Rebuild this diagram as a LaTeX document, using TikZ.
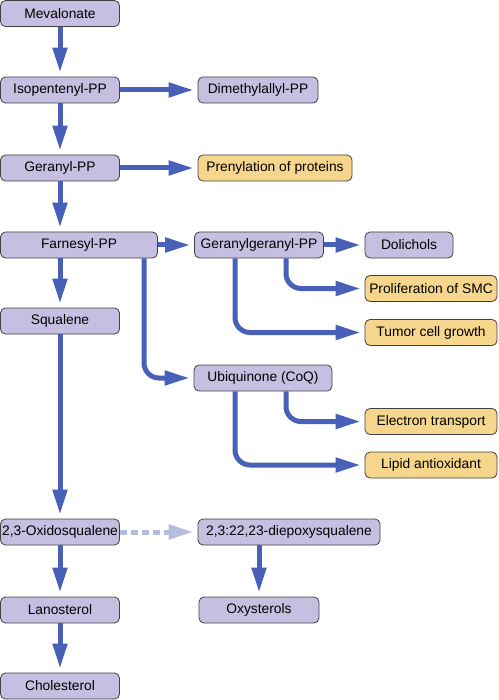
\documentclass[tikz,border=0pt]{standalone}
\usepackage{fontspec}
\setmainfont{Liberation Sans}
\usetikzlibrary{arrows.meta}
\definecolor{boxlav}{RGB}{198,191,226}
\definecolor{boxyel}{RGB}{246,214,140}
\definecolor{flowblue}{RGB}{72,96,184}
\definecolor{flowpale}{RGB}{180,190,220}
\begin{document}
\begin{tikzpicture}[x=1pt,y=-1pt,
    box/.style={draw=black!75,line width=0.8pt,rounded corners=5pt,fill=boxlav,
      minimum height=26pt,inner sep=0pt,font=\fontsize{13.8}{16}\selectfont},
    hbox/.style={box,fill=boxyel},
    flow/.style={draw=flowblue,line width=5pt,-{Triangle[length=25pt,width=14pt]},shorten >=4pt}]
  \useasboundingbox (0,0) rectangle (498,700);
  % main column
  \node[box,minimum width=119pt] (mev) at (60,13.5) {Mevalonate};
  \node[box,minimum width=119pt] (ipp) at (60,90) {Isopentenyl-PP};
  \node[box,minimum width=119pt] (gpp) at (60,168) {Geranyl-PP};
  \node[box,minimum width=157pt] (fpp) at (79,245) {Farnesyl-PP};
  \node[box,minimum width=119pt] (sq) at (60,321) {Squalene};
  \node[box,minimum width=119pt] (oxsq) at (60,532) {2,3-Oxidosqualene};
  \node[box,minimum width=119pt] (lan) at (60,610) {Lanosterol};
  \node[box,minimum width=119pt] (chol) at (60,686) {Cholesterol};
  % side branches
  \node[box,minimum width=120pt] (dmapp) at (258,90) {Dimethylallyl-PP};
  \node[hbox,minimum width=154pt] (pren) at (275,168) {Prenylation of proteins};
  \node[box,minimum width=129pt] (ggpp) at (259,245) {Geranylgeranyl-PP};
  \node[box,minimum width=88pt] (dol) at (409,245) {Dolichols};
  \node[hbox,minimum width=132pt] (smc) at (431,288.5) {Proliferation of SMC};
  \node[hbox,minimum width=132pt] (tumor) at (431,332.5) {Tumor cell growth};
  \node[box,minimum width=138pt] (ubi) at (263,378) {Ubiquinone (CoQ)};
  \node[hbox,minimum width=132pt] (etr) at (431,421.5) {Electron transport};
  \node[hbox,minimum width=132pt] (lipid) at (431,465) {Lipid antioxidant};
  \node[box,minimum width=182pt] (diep) at (289,532) {2,3:22,23-diepoxysqualene};
  \node[box,minimum width=120pt] (oxy) at (259,610) {Oxysterols};
  % arrows
  \foreach \a/\b in {mev/ipp,ipp/gpp,fpp/sq,sq/oxsq,oxsq/lan,lan/chol,diep/oxy}
    \draw[flow] (\a.south -| \b.north) -- (\b.north);
  \draw[flow] (gpp.south) -- (gpp.south |- fpp.north);
  \foreach \a/\b in {ipp/dmapp,gpp/pren,fpp/ggpp,ggpp/dol}
    \draw[flow] (\a.east) -- (\b.west);
  \draw[flow,rounded corners=15pt] ([xshift=65pt]fpp.south) |- (ubi.west);
  \draw[flow,rounded corners=15pt] ([xshift=27pt]ggpp.south) |- (smc.west);
  \draw[flow,rounded corners=15pt] ([xshift=-24pt]ggpp.south) |- (tumor.west);
  \draw[flow,rounded corners=15pt] ([xshift=23pt]ubi.south) |- (etr.west);
  \draw[flow,rounded corners=15pt] ([xshift=-28pt]ubi.south) |- (lipid.west);
  \draw[flow,draw=flowpale,dash pattern=on 7pt off 4pt] (oxsq.east) -- (diep.west);
\end{tikzpicture}
\end{document}
